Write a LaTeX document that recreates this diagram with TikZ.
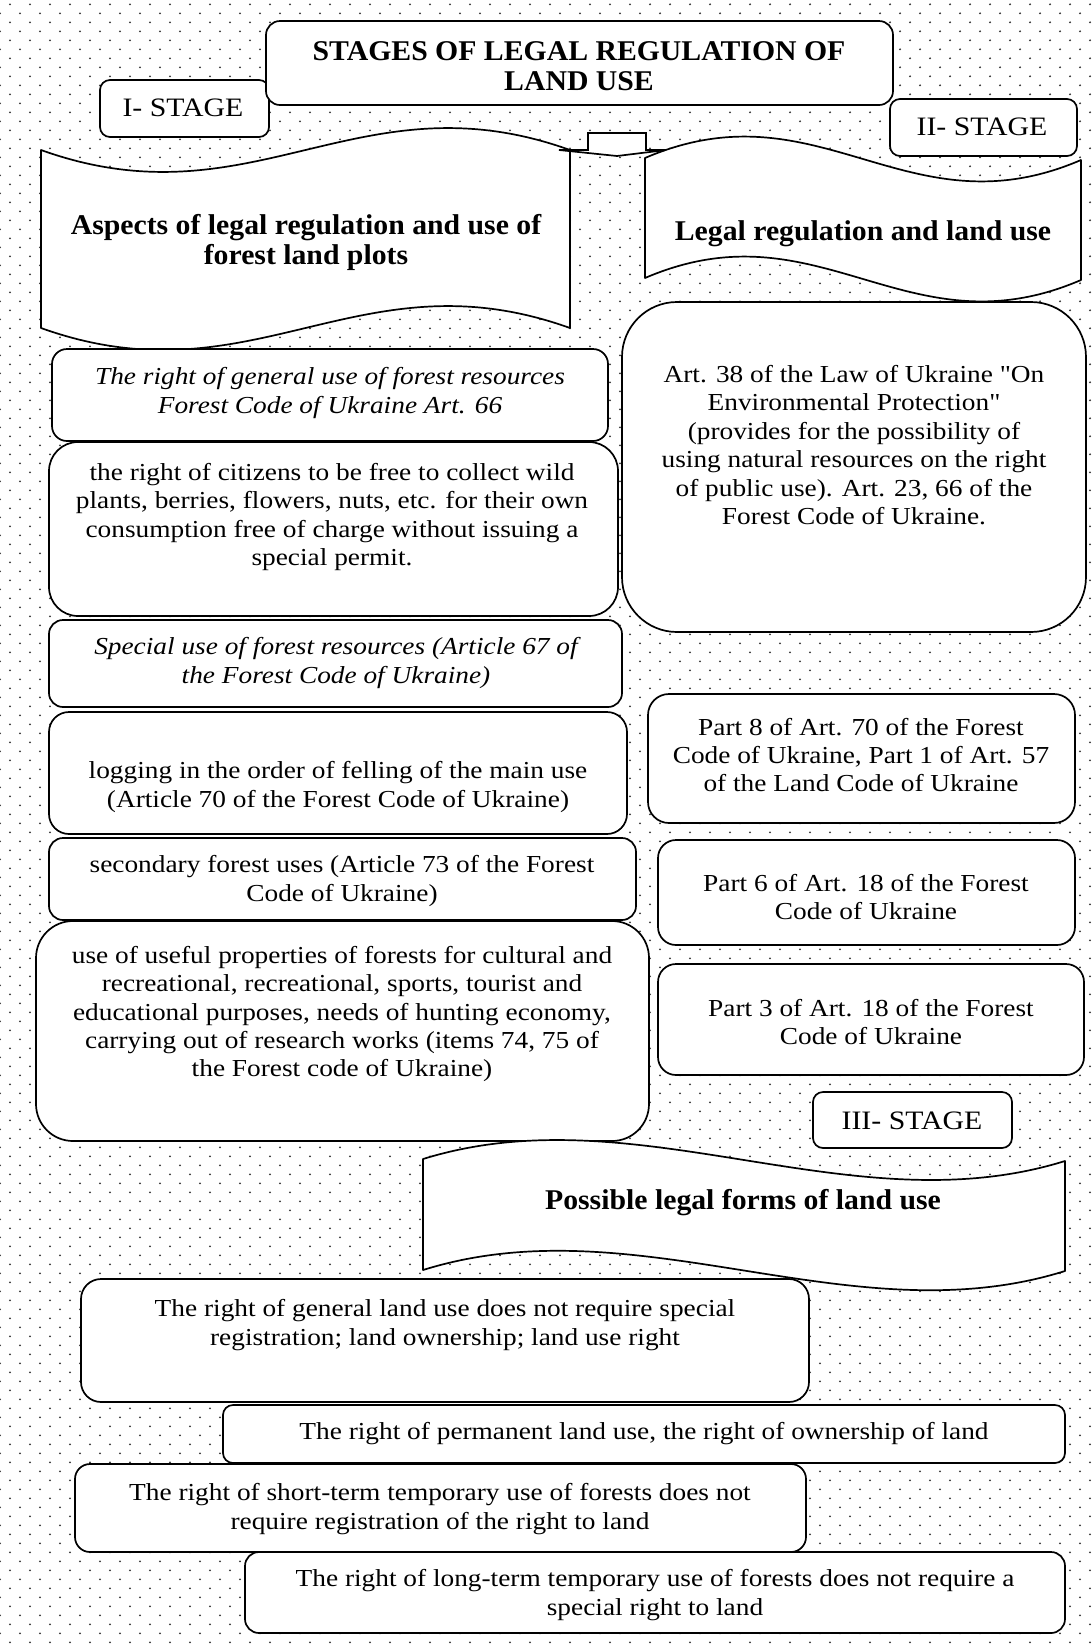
\documentclass[tikz,border=0pt]{standalone}
\usepackage{fontspec}
\setmainfont{Liberation Serif}[FakeStretch=1.12, Ligatures=TeXOff]
\newfontfamily\boldfam{Liberation Serif}[FakeStretch=1.04, Ligatures=TeXOff]
\usetikzlibrary{fit}
\begin{document}
\begin{tikzpicture}[x=0.5pt, y=-0.5pt,
  rbox/.style={draw=black, line width=0.85pt, fill=white, inner sep=0pt},
  wave/.style={draw=black, line width=0.85pt, fill=white, line join=round},
  txt/.style={align=center, inner sep=0pt, font=\fontsize{12.2}{14.2}\selectfont},
  itxt/.style={txt, font=\fontsize{12.2}{14.2}\selectfont\itshape},
  btxt/.style={align=center, inner sep=0pt, font=\boldfam\fontsize{14.3}{15}\selectfont\bfseries},
  stxt/.style={align=center, inner sep=0pt, font=\fontsize{13.3}{15}\selectfont},
  dotrow/.style={line width=1.05pt, line cap=round, dash pattern=on 0pt off 10pt, draw=black!80}
]
\useasboundingbox (0,0) rectangle (1092,1645);
\fill[white] (0,0) rectangle (1092,1645);
% dotted background
\foreach \k in {0,...,90} {
  \draw[dotrow] (0,{13.3+18*\k}) -- (1092,{13.3+18*\k});
  \draw[dotrow] (10,{22.3+18*\k}) -- (1092,{22.3+18*\k});
}
\draw[dotrow] (10,4.3) -- (1092,4.3);

% title and stage labels
\node[rbox, rounded corners=5pt, fit={(100,80) (269,137)}] (st1) {};
\node[rbox, rounded corners=7pt, fit={(266,21) (893,105)}] (title) {};
\node[rbox, rounded corners=5pt, fit={(890,99) (1077,156)}] (st2) {};

% banners
\draw[wave] (41,150) .. controls (252.6,226) and (358.4,74) .. (570,150)
  -- (570,328) .. controls (358.4,252) and (252.6,404) .. (41,328) -- cycle;
\draw[wave] (645,158) .. controls (819.4,83) and (906.6,235) .. (1081,160)
  -- (1081,280) .. controls (906.6,355) and (819.4,203) .. (645,278) -- cycle;

% small connector arrow
\draw[wave, line join=miter] (588,133) -- (646,133) -- (646,150) -- (666,150) -- (617,156)
  -- (559,150) -- (588,150) -- cycle;

% left column
\node[rbox, rounded corners=7.5pt, fit={(52,349) (608,441)}] (l1) {};
\node[rbox, rounded corners=14.5pt, fit={(49,442) (618,616)}] (l2) {};
\node[rbox, rounded corners=7pt, fit={(49,620) (622,707)}] (l3) {};
\node[rbox, rounded corners=10pt, fit={(49,712) (627,834)}] (l4) {};
\node[rbox, rounded corners=7pt, fit={(49,838) (636,920)}] (l5) {};
\node[rbox, rounded corners=18.5pt, fit={(36,921) (649,1141)}] (l6) {};

% right column
\node[rbox, rounded corners=27.5pt, fit={(622,302) (1086,632)}] (r1) {};
\node[rbox, rounded corners=10.5pt, fit={(648,694) (1075,823)}] (r2) {};
\node[rbox, rounded corners=9pt, fit={(658,840) (1075,945)}] (r3) {};
\node[rbox, rounded corners=9pt, fit={(658,964) (1084,1075)}] (r4) {};
\node[rbox, rounded corners=5pt, fit={(813,1092) (1012,1148)}] (st3) {};

% third banner
\draw[wave] (423,1159) .. controls (637,1092.5) and (851,1227.5) .. (1065,1161)
  -- (1065,1271) .. controls (851,1338) and (637,1203) .. (423,1270) -- cycle;

% bottom boxes
\node[rbox, rounded corners=10pt, fit={(81,1279) (809,1402)}] (b1) {};
\node[rbox, rounded corners=5pt, fit={(223,1405) (1065,1463)}] (b2) {};
\node[rbox, rounded corners=7.5pt, fit={(75,1464) (806,1552)}] (b3) {};
\node[rbox, rounded corners=7pt, fit={(245,1552) (1065,1633)}] (b4) {};

% texts
\node[btxt] (titlet) at (579,66) {STAGES OF LEGAL REGULATION OF\\LAND USE};
\node[stxt] (st1t) at (183,108) {I- STAGE};
\node[stxt] (st2t) at (982,127) {II- STAGE};
\node[stxt] (st3t) at (912,1121) {III- STAGE};
\node[btxt] (w1t) at (306,242) {Aspects of legal regulation and use of\\forest land plots};
\node[btxt] (w2t) at (863,234) {Legal regulation and land use};
\node[btxt] (w3t) at (743,1203) {Possible legal forms of land use};

\node[itxt] (l1t) at (330,393) {The right of general use of forest resources\\Forest Code of Ukraine Art. 66};
\node[txt] (l2t) at (332,517) {the right of citizens to be free to collect wild\\plants, berries, flowers, nuts, etc. for their own\\consumption free of charge without issuing a\\special permit.};
\node[itxt] (l3t) at (336,663) {Special use of forest resources (Article 67 of\\the Forest Code of Ukraine)};
\node[txt] (l4t) at (338,787) {logging in the order of felling of the main use\\(Article 70 of the Forest Code of Ukraine)};
\node[txt] (l5t) at (342,881) {secondary forest uses (Article 73 of the Forest\\Code of Ukraine)};
\node[txt] (l6t) at (342,1014) {use of useful properties of forests for cultural and\\recreational, recreational, sports, tourist and\\educational purposes, needs of hunting economy,\\carrying out of research works (items 74, 75 of\\the Forest code of Ukraine)};

\node[txt] (r1t) at (854,445) {Art. 38 of the Law of Ukraine "On\\Environmental Protection"\\(provides for the possibility of\\using natural resources on the right\\of public use). Art. 23, 66 of the\\Forest Code of Ukraine.};
\node[txt] (r2t) at (861,755) {Part 8 of Art. 70 of the Forest\\Code of Ukraine, Part 1 of Art. 57\\of the Land Code of Ukraine};
\node[txt] (r3t) at (866,897) {Part 6 of Art. 18 of the Forest\\Code of Ukraine};
\node[txt] (r4t) at (871,1022) {Part 3 of Art. 18 of the Forest\\Code of Ukraine};

\node[txt] (b1t) at (445,1325) {The right of general land use does not require special\\registration; land ownership; land use right};
\node[txt] (b2t) at (644,1434) {The right of permanent land use, the right of ownership of land};
\node[txt] (b3t) at (440,1509) {The right of short-term temporary use of forests does not\\require registration of the right to land};
\node[txt] (b4t) at (655,1595) {The right of long-term temporary use of forests does not require a\\special right to land};
\end{tikzpicture}
\end{document}
